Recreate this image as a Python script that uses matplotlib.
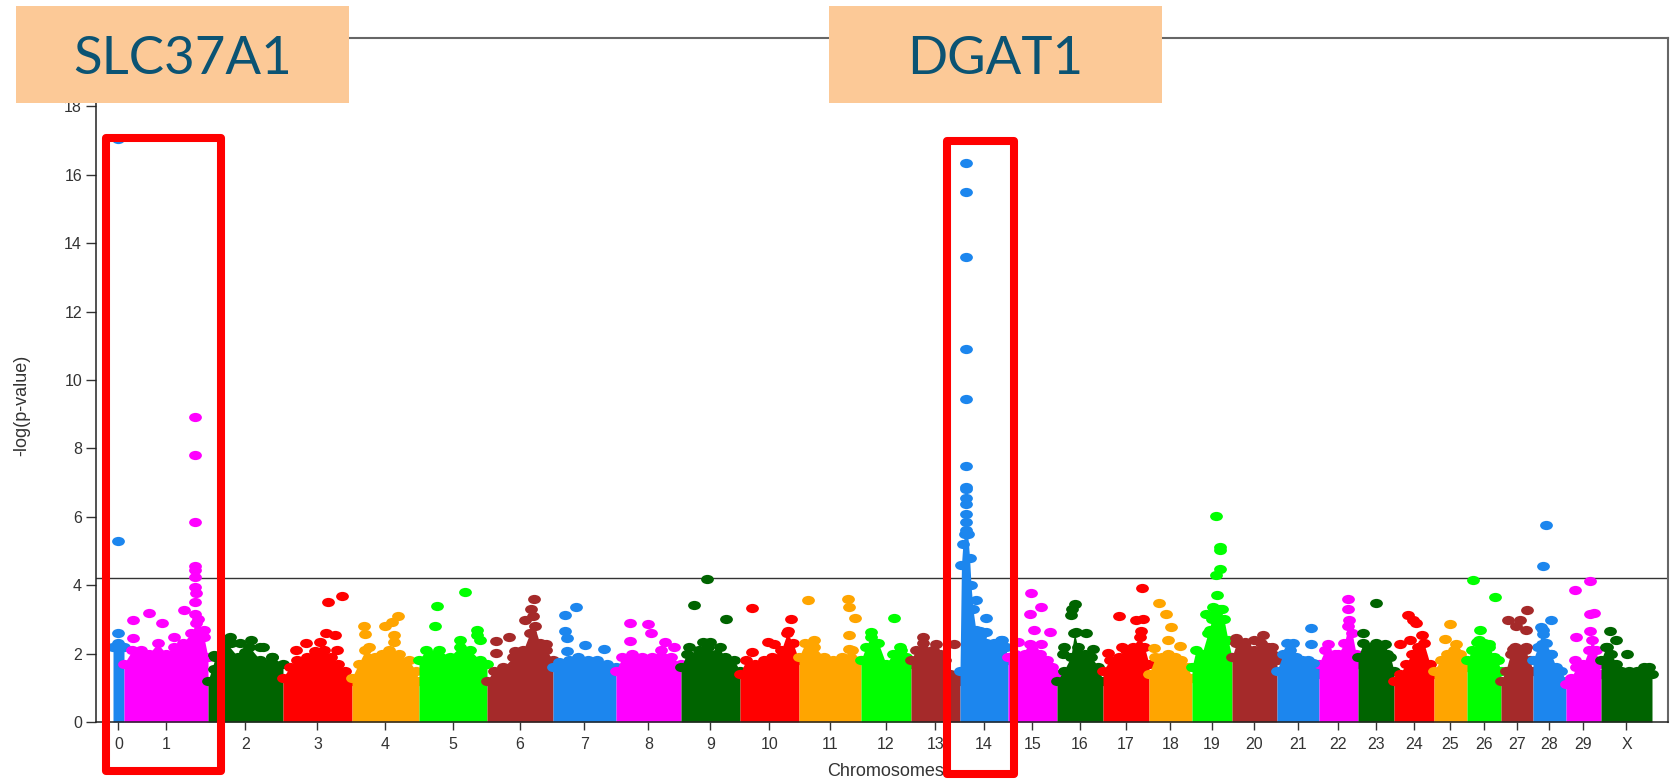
import numpy as np
import matplotlib
matplotlib.use("Agg")
import matplotlib.pyplot as plt
from matplotlib.path import Path
from matplotlib.transforms import Affine2D
from matplotlib.patches import Rectangle

# chromosome names and relative lengths (as drawn)
chrom_names = [str(i) for i in range(30)] + ["X"]
chrom_len = [11, 84, 75, 69, 67, 68, 66, 63, 65, 59, 59, 62, 50, 49, 48, 49,
             46, 46, 43, 40, 45, 42, 39, 36, 40, 33, 34, 32, 33, 35, 51]
palette = ["#1C86EE", "#FF00FF", "#006400", "#FF0000", "#FFA500", "#00FF00", "#A52A2A"]

# upper edge of the dense SNP cloud: (position within chromosome 0..1, -log p)
body = [
    [(0, 2.2), (0.5, 2.3), (1, 2.2)],
    [(0, 1.7), (0.1, 2.1), (0.2, 2.1), (0.3, 2.0), (0.4, 2.3), (0.5, 2.0), (0.6, 2.2), (0.7, 2.3), (0.8, 2.6), (0.88, 3.0), (0.95, 2.5), (1, 1.9)],
    [(0, 1.2), (0.1, 1.9), (0.25, 2.3), (0.4, 1.9), (0.55, 2.2), (0.7, 1.8), (0.85, 1.9), (1, 1.7)],
    [(0, 1.3), (0.1, 1.6), (0.2, 1.8), (0.35, 1.9), (0.5, 2.0), (0.6, 2.1), (0.7, 1.9), (0.8, 1.7), (0.9, 1.5), (1, 1.2)],
    [(0, 1.3), (0.1, 1.7), (0.2, 2.1), (0.35, 1.9), (0.45, 2.0), (0.55, 2.1), (0.7, 2.0), (0.85, 1.8), (0.95, 1.5), (1, 1.2)],
    [(0, 1.8), (0.1, 2.1), (0.3, 2.1), (0.45, 1.9), (0.6, 2.2), (0.75, 2.1), (0.9, 1.8), (1, 1.7)],
    [(0, 1.2), (0.1, 1.5), (0.25, 1.6), (0.4, 1.9), (0.55, 2.1), (0.65, 2.6), (0.72, 2.8), (0.8, 2.3), (0.9, 2.1), (1, 1.8)],
    [(0, 1.6), (0.1, 1.75), (0.25, 1.8), (0.4, 1.9), (0.55, 1.8), (0.7, 1.8), (0.85, 1.7), (1, 1.6)],
    [(0, 1.5), (0.1, 1.9), (0.25, 2.0), (0.4, 1.9), (0.55, 1.9), (0.7, 2.1), (0.85, 1.9), (1, 1.7)],
    [(0, 1.6), (0.1, 2.0), (0.3, 2.1), (0.45, 2.2), (0.6, 2.0), (0.75, 1.9), (0.9, 1.8), (1, 1.5)],
    [(0, 1.4), (0.1, 1.8), (0.25, 1.7), (0.4, 1.8), (0.55, 1.9), (0.7, 2.1), (0.8, 2.6), (0.9, 2.3), (1, 1.8)],
    [(0, 1.9), (0.1, 2.3), (0.25, 2.2), (0.4, 1.9), (0.55, 1.8), (0.7, 1.9), (0.85, 2.1), (1, 1.8)],
    [(0, 1.8), (0.1, 2.2), (0.2, 2.5), (0.35, 2.3), (0.5, 1.7), (0.65, 2.0), (0.8, 2.1), (0.9, 1.9), (1, 1.7)],
    [(0, 1.8), (0.1, 2.1), (0.25, 2.3), (0.45, 2.1), (0.6, 2.0), (0.7, 1.8), (0.8, 1.4), (0.9, 1.35), (1, 1.2)],
    [(0, 1.5), (0.03, 4.6), (0.06, 5.2), (0.1, 5.5), (0.16, 5.5), (0.2, 4.8), (0.23, 4.0), (0.27, 3.3), (0.33, 2.7), (0.42, 2.5), (0.55, 2.3), (0.7, 2.3), (0.85, 2.4), (0.95, 2.2), (1, 1.8)],
    [(0, 1.9), (0.15, 2.0), (0.35, 2.0), (0.5, 2.1), (0.65, 2.0), (0.8, 1.8), (0.9, 1.6), (1, 1.4)],
    [(0, 1.2), (0.15, 1.5), (0.3, 1.9), (0.38, 2.6), (0.45, 2.2), (0.6, 2.0), (0.75, 1.9), (0.9, 1.6), (1, 1.2)],
    [(0, 1.5), (0.15, 1.8), (0.35, 1.9), (0.5, 2.1), (0.65, 2.2), (0.8, 2.5), (0.9, 2.2), (1, 1.7)],
    [(0, 1.4), (0.15, 1.9), (0.3, 1.9), (0.45, 2.0), (0.6, 1.9), (0.75, 1.8), (0.9, 1.6), (1, 1.3)],
    [(0, 1.6), (0.1, 2.1), (0.25, 2.0), (0.4, 2.6), (0.5, 3.0), (0.6, 3.2), (0.7, 3.3), (0.8, 3.0), (0.9, 2.4), (1, 1.9)],
    [(0, 1.9), (0.1, 2.3), (0.3, 2.2), (0.5, 2.1), (0.65, 2.3), (0.8, 2.2), (0.9, 2.0), (1, 1.8)],
    [(0, 1.5), (0.15, 2.0), (0.3, 2.1), (0.45, 1.9), (0.6, 1.8), (0.75, 1.8), (0.9, 1.6), (1, 1.4)],
    [(0, 1.7), (0.15, 2.1), (0.3, 1.9), (0.5, 2.0), (0.65, 2.3), (0.75, 2.8), (0.85, 2.6), (0.95, 2.0), (1, 1.7)],
    [(0, 1.9), (0.15, 2.3), (0.35, 2.2), (0.5, 2.3), (0.65, 2.2), (0.8, 2.0), (0.9, 1.9), (1, 1.5)],
    [(0, 1.2), (0.15, 1.4), (0.3, 1.7), (0.45, 2.0), (0.6, 2.2), (0.75, 2.3), (0.9, 1.7), (1, 1.4)],
    [(0, 1.5), (0.2, 1.8), (0.4, 2.0), (0.6, 2.1), (0.8, 2.0), (0.9, 1.8), (1, 1.6)],
    [(0, 1.8), (0.15, 2.1), (0.35, 2.4), (0.5, 2.3), (0.65, 2.2), (0.8, 1.9), (0.9, 1.8), (1, 1.5)],
    [(0, 1.2), (0.15, 1.5), (0.3, 2.0), (0.45, 2.2), (0.6, 2.0), (0.75, 2.1), (0.9, 1.8), (1, 1.5)],
    [(0, 1.8), (0.15, 2.2), (0.3, 2.7), (0.4, 2.3), (0.55, 2.0), (0.7, 1.6), (0.85, 1.5), (1, 1.2)],
    [(0, 1.1), (0.15, 1.3), (0.3, 1.6), (0.5, 1.7), (0.65, 2.1), (0.75, 2.4), (0.85, 2.1), (0.95, 1.7), (1, 1.4)],
    [(0, 1.8), (0.1, 2.2), (0.2, 2.0), (0.3, 1.7), (0.4, 1.5), (0.55, 1.5), (0.7, 1.5), (0.85, 1.6), (0.95, 1.6), (1, 1.4)],
]

# individual SNPs standing out above the cloud
hits = [
    [(0.5, 2.6), (0.5, 5.3), (0.5, 17.05)],
    [(0.11, 2.97), (0.3, 3.2), (0.45, 2.9), (0.11, 2.46), (0.6, 2.5), (0.71, 3.27), (0.85, 8.93), (0.85, 7.8),
     (0.85, 5.84), (0.85, 4.55), (0.85, 4.44), (0.85, 4.24), (0.84, 3.95), (0.86, 3.77), (0.85, 3.5),
     (0.85, 3.15), (0.86, 2.9), (0.95, 2.7)],
    [(0.08, 1.95), (0.08, 1.55), (0.29, 2.5), (0.31, 2.3), (0.43, 2.3), (0.5, 2.05), (0.58, 2.4), (0.69, 2.2), (0.74, 2.2), (0.85, 1.9)],
    [(0.33, 2.32), (0.65, 3.52), (0.85, 3.69), (0.63, 2.6), (0.75, 2.55), (0.19, 2.1), (0.46, 2.08), (0.78, 2.1), (0.53, 2.34)],
    [(0.18, 2.8), (0.2, 2.58), (0.5, 2.8), (0.6, 2.92), (0.69, 3.1), (0.63, 2.53), (0.63, 2.34), (0.25, 2.19)],
    [(0.27, 3.4), (0.24, 2.8), (0.68, 3.8), (0.6, 2.4), (0.86, 2.7), (0.9, 2.4), (0.85, 2.55)],
    [(0.14, 2.36), (0.14, 2.03), (0.34, 2.49), (0.71, 3.6), (0.66, 3.31), (0.69, 3.09), (0.57, 2.97), (0.9, 2.29), (0.42, 2.08)],
    [(0.19, 3.12), (0.36, 3.36), (0.19, 2.66), (0.22, 2.47), (0.23, 2.08), (0.51, 2.24), (0.81, 2.13)],
    [(0.22, 2.9), (0.49, 2.88), (0.54, 2.6), (0.22, 2.37), (0.75, 2.34), (0.89, 2.19)],
    [(0.44, 4.18), (0.22, 3.42), (0.77, 3.02), (0.37, 2.34), (0.49, 2.34), (0.14, 2.19), (0.66, 2.19)],
    [(0.2, 3.32), (0.86, 3.01), (0.81, 2.66), (0.48, 2.34), (0.58, 2.27), (0.2, 2.05)],
    [(0.14, 3.56), (0.79, 3.6), (0.81, 3.36), (0.91, 3.05), (0.8, 2.53), (0.25, 2.41), (0.8, 2.14)],
    [(0.67, 3.05), (0.21, 2.63), (0.79, 2.19)],
    [(0.24, 2.49), (0.52, 2.29), (0.88, 2.27)],
    [(0.13, 16.35), (0.13, 15.5), (0.13, 13.6), (0.13, 10.9), (0.13, 9.45), (0.13, 7.5), (0.13, 6.87), (0.13, 6.8),
     (0.13, 6.55), (0.13, 6.38), (0.13, 6.09), (0.13, 5.85), (0.13, 5.6), (0.34, 3.58), (0.55, 3.04), (0.42, 2.66),
     (0.55, 2.63), (0.87, 2.39)],
    [(0.46, 3.78), (0.68, 3.36), (0.44, 3.17), (0.54, 2.7), (0.85, 2.63), (0.44, 2.27), (0.68, 2.27), (0.2, 2.35)],
    [(0.39, 3.46), (0.33, 3.31), (0.3, 3.12), (0.41, 2.63), (0.63, 2.6), (0.78, 2.14), (0.13, 2.0), (0.16, 2.19)],
    [(0.85, 3.92), (0.34, 3.09), (0.71, 2.97), (0.86, 3.02), (0.83, 2.66), (0.11, 2.02), (0.41, 2.19)],
    [(0.24, 3.49), (0.4, 3.17), (0.52, 2.78), (0.44, 2.39), (0.72, 2.21), (0.12, 2.17)],
    [(0.6, 6.01), (0.69, 5.12), (0.69, 5.04), (0.7, 4.48), (0.6, 4.29), (0.62, 3.7), (0.53, 3.36), (0.75, 3.31),
     (0.36, 3.17), (0.7, 2.97), (0.45, 2.68)],
    [(0.1, 2.45), (0.3, 2.35), (0.5, 2.39), (0.69, 2.55), (0.9, 2.2)],
    [(0.8, 2.76), (0.23, 2.31), (0.39, 2.31), (0.82, 2.27), (0.63, 1.75), (0.86, 1.73)],
    [(0.74, 3.61), (0.74, 3.31), (0.78, 2.97), (0.22, 2.27), (0.42, 2.0)],
    [(0.5, 3.48), (0.14, 2.6), (0.74, 2.27)],
    [(0.36, 3.12), (0.47, 2.97), (0.55, 2.89), (0.14, 2.27), (0.4, 2.41), (0.7, 2.53)],
    [(0.47, 2.86), (0.32, 2.44), (0.68, 2.29)],
    [(0.18, 4.14), (0.83, 3.65), (0.38, 2.68), (0.28, 2.34), (0.66, 2.29)],
    [(0.81, 3.27), (0.21, 2.97), (0.58, 2.97), (0.47, 2.8), (0.79, 2.68), (0.37, 2.14), (0.79, 2.19)],
    [(0.38, 5.75), (0.29, 4.55), (0.55, 2.97), (0.24, 2.78), (0.29, 2.58), (0.27, 2.29), (0.55, 2.0)],
    [(0.69, 4.11), (0.25, 3.85), (0.69, 3.17), (0.79, 3.19), (0.69, 2.66), (0.29, 2.5), (0.27, 1.8)],
    [(0.17, 2.66), (0.29, 2.39), (0.51, 1.98), (0.11, 2.19)],
]

threshold = 4.2
genes = ["SLC37A1", "DGAT1"]

W, H = 1674, 781
plt.rcParams["font.family"] = ["Liberation Sans", "DejaVu Sans"]
fig = plt.figure(figsize=(W / 100, H / 100), dpi=100)
ax = fig.add_axes([96 / W, 1 - 722 / H, (1668 - 96) / W, (722 - 38) / H])

# slightly wide dots, as in the original
dot = Path.unit_circle().transformed(Affine2D().scale(1.0, 0.72))

starts = np.concatenate([[0], np.cumsum(chrom_len)[:-1]])
centers = starts + np.array(chrom_len) / 2

for i, name in enumerate(chrom_names):
    col = palette[i % len(palette)]
    bp = np.array(body[i])
    bx = starts[i] + bp[:, 0] * chrom_len[i]
    ax.fill_between(bx, 0, bp[:, 1], color=col, lw=0, zorder=2)
    ax.scatter(bx, bp[:, 1], s=85, marker=dot, color=col, lw=0, zorder=2)
    hp = np.array(hits[i])
    hx = starts[i] + hp[:, 0] * chrom_len[i]
    ax.scatter(hx, hp[:, 1], s=85, marker=dot, color=col, lw=0, zorder=3)

ax.axhline(threshold, color="#333333", lw=1.0, zorder=1.5)

ax.set_xlim(-17, sum(chrom_len) + 16)
ax.set_ylim(0, 20)
ax.set_yticks(np.arange(0, 19, 2))
ax.set_xticks(centers)
ax.set_xticklabels(chrom_names)
ax.tick_params(axis="y", direction="out", length=7, width=1, pad=3, labelsize=11.5, colors="#333333")
ax.tick_params(axis="x", direction="out", length=6, width=1, pad=5, labelsize=11.5, colors="#333333")
for s in ["left", "bottom"]:
    ax.spines[s].set_color("#222222")
    ax.spines[s].set_linewidth(1.1)
for s in ["top", "right"]:
    ax.spines[s].set_color("#666666")
    ax.spines[s].set_linewidth(1.5)

fig.text(22 / W, 1 - 405 / H, "-log(p-value)", rotation=90, ha="center", va="center",
         fontsize=13, color="#333333")
fig.text(886 / W, 1 - 772 / H, "Chromosomes", ha="center", va="center",
         fontsize=13, color="#333333")


def px_rect(x0, y0, x1, y1, **kw):
    return Rectangle((x0 / W, 1 - y1 / H), (x1 - x0) / W, (y1 - y0) / H,
                     transform=fig.transFigure, **kw)


# gene label boxes
for (x0, x1), g in zip([(16, 349), (829, 1162)], genes):
    fig.add_artist(px_rect(x0, 6, x1, 103, facecolor="#FCC997", edgecolor="none", zorder=5))
    fig.text((x0 + x1) / 2 / W, 1 - 59 / H, g, ha="center", va="center", fontsize=38,
             family="Lato", fontweight="normal", color="#0B5373", zorder=6)

# red highlight frames
for x0, y0, x1, y1 in [(106, 138, 221, 771), (947, 141, 1014, 774)]:
    fig.add_artist(px_rect(x0, y0, x1, y1, fill=False, edgecolor="#FF0000", lw=5.8,
                           joinstyle="round", zorder=10))

fig.savefig("out.png", dpi=100)
